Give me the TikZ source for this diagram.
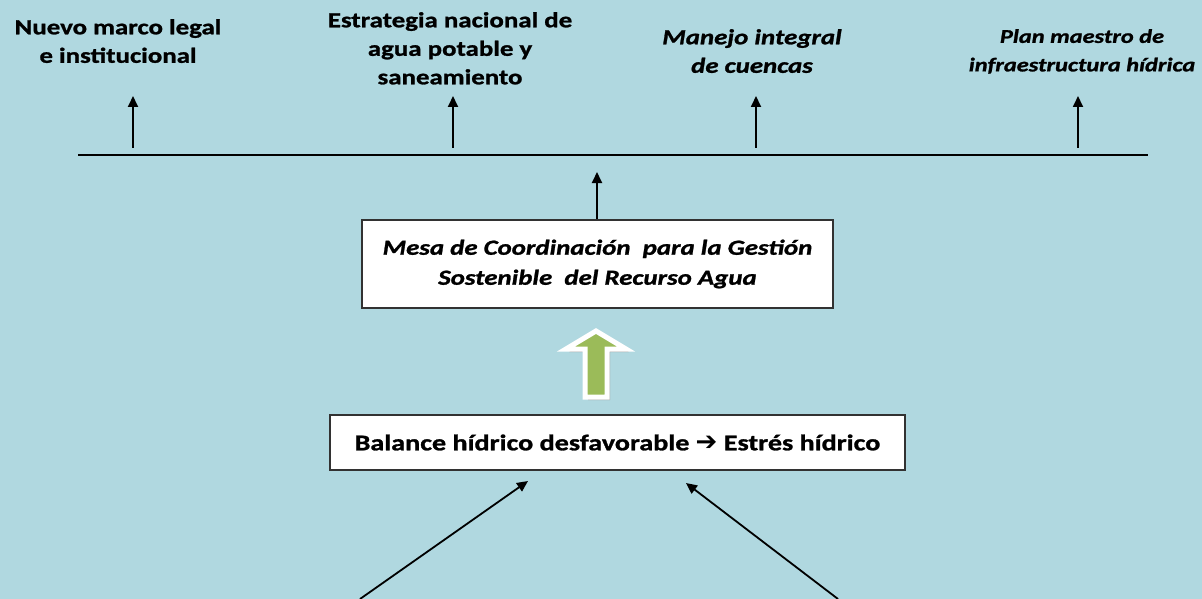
\documentclass[tikz,border=0pt]{standalone}
\usepackage{fontspec}
\setmainfont{Carlito}[FakeStretch=1.25, BoldFeatures={FakeBold=1.2}, BoldItalicFeatures={FakeBold=1.2}]
\newfontfamily\dvfont{DejaVu Sans}
\usetikzlibrary{arrows.meta}
\definecolor{bgblue}{RGB}{176,216,224}
\definecolor{boxline}{RGB}{50,50,50}
\definecolor{arrgreen}{RGB}{155,187,89}
\tikzset{
  lbl/.style={anchor=north, align=center, inner sep=0pt, text=black,
    font=\fontsize{21.5}{28.5}\selectfont\bfseries},
  lblit/.style={lbl, font=\fontsize{21.5}{28.5}\selectfont\bfseries\itshape},
  box/.style={draw=boxline, line width=1.8pt, fill=white, align=center, inner sep=0pt},
  conn/.style={line width=1.8pt, -{Triangle[length=11pt,width=10pt]}},
}
\begin{document}
\begin{tikzpicture}[x=1pt,y=-1pt]
\fill[bgblue] (0,0) rectangle (1202,599);
\useasboundingbox (0,0) rectangle (1202,599);
\clip (0,0) rectangle (1202,599);

% top labels
\node[lbl] (t1) at (118,19) {Nuevo marco legal\\e institucional};
\node[lbl] (t2) at (450,12) {Estrategia nacional de\\agua potable y\\saneamiento};
\node[lblit] (t3) at (752,29) {Manejo integral\\de cuencas};
\node[lblit, font=\fontsize{19.5}{28.5}\selectfont\bfseries\itshape] (t4) at (1082,29) {Plan maestro de\\infraestructura hídrica};

% horizontal bar
\coordinate (barL) at (78,155);
\coordinate (barR) at (1148,155);
\draw[line width=1.8pt] (barL) -- (barR);

\coordinate (a1s) at (133,148); \coordinate (a1e) at (133,96);
\coordinate (a2s) at (453,148); \coordinate (a2e) at (453,96);
\coordinate (a3s) at (756,148); \coordinate (a3e) at (756,96);
\coordinate (a4s) at (1078,148); \coordinate (a4e) at (1078,96);
\draw[conn] (a1s) -- (a1e);
\draw[conn] (a2s) -- (a2e);
\draw[conn] (a3s) -- (a3e);
\draw[conn] (a4s) -- (a4e);

% Mesa box
\node[box, minimum width=471pt, minimum height=88pt,
  font=\fontsize{21.5}{30}\selectfont\bfseries\itshape] (mesa) at (597.5,264)
  {Mesa de Coordinación\ \ para la Gestión\\Sostenible\ \ del Recurso Agua};
\coordinate (mesaUp) at (597,172);
\draw[conn] (mesa.north -| mesaUp) -- (mesaUp);

% Balance box
\node[box, minimum width=575pt, minimum height=55pt,
  font=\fontsize{22.5}{28.5}\selectfont\bfseries] (bal) at (617.5,442.5)
  {Balance hídrico desfavorable {\dvfont\bfseries\fontsize{26}{20}\selectfont ➔} Estrés hídrico};

% green block arrow between boxes
\fill[gray!70] (599,334) -- (629,352) -- (610,352) -- (610,400) -- (588,400) -- (588,352) -- (569,352) -- cycle;
\filldraw[fill=arrgreen, draw=white, line width=5pt, line join=miter]
  (596,331) -- (626,349) -- (607,349) -- (607,397) -- (585,397) -- (585,349) -- (566,349) -- cycle;

% bottom arrows
\coordinate (b1s) at (360,599); \coordinate (b1e) at (528,481);
\coordinate (b2s) at (838,599); \coordinate (b2e) at (686,483);
\draw[conn] (b1s) -- (b1e);
\draw[conn] (b2s) -- (b2e);
\end{tikzpicture}
\end{document}
